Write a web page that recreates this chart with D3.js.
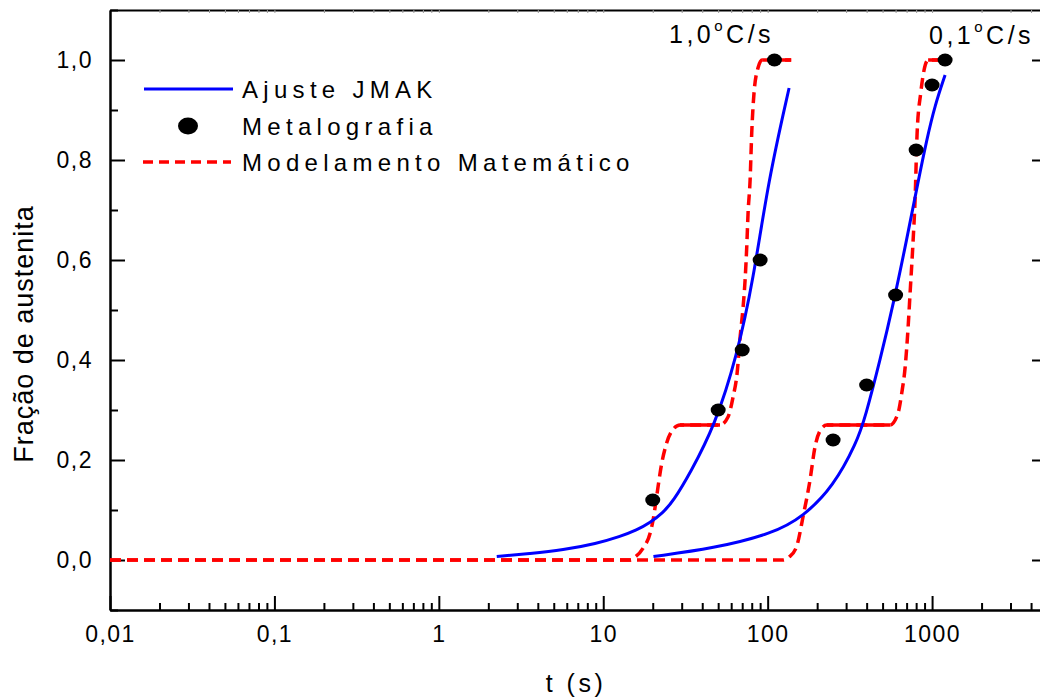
<!DOCTYPE html>
<html>
<head>
<meta charset="utf-8">
<script src="https://cdn.jsdelivr.net/npm/d3@7"></script>
<style>
  body { margin: 0; background: #fff; }
  svg text { font-family: "Liberation Sans", Arial, sans-serif; fill: #000; }
</style>
</head>
<body>
<div id="chart"></div>
<script>
// values: [t (s), fraction]
const jmakFast = [[2.25,0.007],[3.59,0.013],[5.69,0.02],[9.12,0.033],[12.65,0.047],[16.0,0.06],[19.3,0.075],[23,0.094],[26.7,0.118],[33.7,0.173],[47.9,0.27],[64.9,0.407],[81.8,0.56],[101,0.76],[135,0.944]];
const jmakSlow = [[20.2,0.007],[46.7,0.023],[108,0.053],[165,0.087],[251,0.147],[348,0.235],[392,0.285],[483,0.40],[582,0.513],[700,0.64],[826,0.76],[927,0.84],[1042,0.91],[1200,0.97]];

const modelFast = [[0.01,0],[14.5,0],[15.5,0.005],[17.5,0.024],[19.3,0.054],[20.1,0.08],[21.1,0.126],[22.7,0.194],[24.3,0.234],[26.7,0.262],[29.3,0.27],[51.3,0.27],[57.4,0.286],[61.6,0.326],[65.2,0.374],[68,0.446],[70.9,0.506],[72.9,0.56],[74.6,0.626],[76,0.694],[78.2,0.76],[80,0.854],[82.6,0.934],[87.5,0.985],[92.5,1.0],[139,1.0]];
const modelSlow = [[0.01,0],[124,0],[135,0.006],[150,0.027],[164,0.086],[181,0.16],[194,0.226],[208,0.258],[229,0.27],[556,0.27],[621,0.294],[654,0.334],[686,0.386],[715,0.466],[735,0.534],[767,0.64],[788,0.72],[811,0.854],[853,0.934],[894,0.98],[946,1.0],[1234,1.0]];

const metaFastT = [20, 50, 70, 90, 110];
const metaFastF = [0.12, 0.30, 0.42, 0.60, 1.0];
const metaSlowT = [250, 400, 600, 800, 1000, 1200];
const metaSlowF = [0.24, 0.35, 0.53, 0.82, 0.95, 1.0];

const xTicks  = [0.01, 0.1, 1, 10, 100, 1000];
const xLabels = ["0,01", "0,1", "1", "10", "100", "1000"];
const yTicks  = [0, 0.2, 0.4, 0.6, 0.8, 1.0];
const yLabels = ["0,0", "0,2", "0,4", "0,6", "0,8", "1,0"];

const legendNames = ["Ajuste JMAK", "Metalografia", "Modelamento Matemático"];
const rateLabels  = ["1,0", "0,1"];

const WIDTH  = 1040;
const HEIGHT = 700;
const MARGIN = { top: 10, right: -7, bottom: 90, left: 110 };
const INNER_WIDTH  = WIDTH - MARGIN.left - MARGIN.right;
const INNER_HEIGHT = HEIGHT - MARGIN.top - MARGIN.bottom;

const svg = d3.select("#chart").append("svg")
    .attr("width", WIDTH)
    .attr("height", HEIGHT);

const g = svg.append("g")
    .attr("transform", `translate(${MARGIN.left},${MARGIN.top})`);

const x = d3.scaleLog().domain([0.01, 5000]).range([0, INNER_WIDTH]);
const y = d3.scaleLinear().domain([-0.1, 1.1]).range([INNER_HEIGHT, 0]);

// minor tick positions
const xMinor = [];
for (let e = -2; e <= 3; e++) {
    for (let m = 2; m <= 9; m++) {
        const v = m * Math.pow(10, e);
        if (v <= 5000) xMinor.push(v);
    }
}
const yMinor = d3.range(-0.1, 1.11, 0.2).map(v => +v.toFixed(2));

const axisStyle = sel => {
    sel.select(".domain").attr("stroke", "#000").attr("stroke-width", 2);
    sel.selectAll(".tick line").attr("stroke", "#000").attr("stroke-width", 2);
    sel.selectAll(".tick text")
        .style("font-size", "23px")
        .style("letter-spacing", "1.5px");
};

// bottom axis
g.append("g")
    .attr("transform", `translate(0,${INNER_HEIGHT})`)
    .call(d3.axisBottom(x).tickValues(xMinor).tickSize(-7).tickFormat("").tickSizeOuter(0))
    .call(axisStyle);
g.append("g")
    .attr("transform", `translate(0,${INNER_HEIGHT})`)
    .call(d3.axisBottom(x).tickValues(xTicks).tickSize(-14).tickSizeOuter(0)
        .tickPadding(16).tickFormat((d, i) => xLabels[i]))
    .call(axisStyle);

// top axis, tiny ticks
g.append("g")
    .call(d3.axisTop(x).tickValues(xTicks.concat(xMinor)).tickSize(-3).tickFormat("").tickSizeOuter(0))
    .call(axisStyle)
    .call(s => s.selectAll(".tick line").attr("stroke", "#999").attr("stroke-width", 1));

// left axis
g.append("g")
    .call(d3.axisLeft(y).tickValues(yMinor).tickSize(-8).tickFormat("").tickSizeOuter(0))
    .call(axisStyle);
g.append("g")
    .call(d3.axisLeft(y).tickValues(yTicks).tickSize(-15).tickSizeOuter(0)
        .tickPadding(17).tickFormat((d, i) => yLabels[i]))
    .call(axisStyle);

// right axis (frame)
g.append("g")
    .attr("transform", `translate(${INNER_WIDTH},0)`)
    .call(d3.axisRight(y).tickValues(yTicks).tickSize(-15).tickFormat("").tickSizeOuter(0))
    .call(axisStyle);

// axis titles
g.append("text")
    .attr("x", x(0.01) + 466)
    .attr("y", INNER_HEIGHT + 82)
    .attr("text-anchor", "middle")
    .style("font-size", "25px")
    .style("letter-spacing", "3.5px")
    .text("t (s)");

svg.append("text")
    .attr("transform", "translate(33,334) rotate(-90)")
    .attr("text-anchor", "middle")
    .style("font-size", "27px")
    .style("letter-spacing", "1px")
    .text("Fração de austenita");

const line = d3.line()
    .curve(d3.curveMonotoneX)
    .x(d => x(d[0]))
    .y(d => y(d[1]));

const smoothLine = d3.line()
    .curve(d3.curveBasis)
    .x(d => x(d[0]))
    .y(d => y(d[1]));

// model curves (dashed, plateaus drawn solid)
[modelFast, modelSlow].forEach(data => {
    g.append("path")
        .datum(data)
        .attr("fill", "none")
        .attr("stroke", "#ff0000")
        .attr("stroke-width", 3.5)
        .attr("stroke-dasharray", "11,6")
        .attr("d", line);

    const flats = d3.pairs(data).filter(([a, b]) => a[1] === b[1] && a[1] > 0);
    g.selectAll(null)
        .data(flats)
        .join("line")
        .attr("x1", d => x(d[0][0]))
        .attr("x2", d => x(d[1][0]))
        .attr("y1", d => y(d[0][1]))
        .attr("y2", d => y(d[1][1]))
        .attr("stroke", "#ff0000")
        .attr("stroke-width", 3.5);
});

// JMAK fits
[jmakFast, jmakSlow].forEach(data => {
    g.append("path")
        .datum(data)
        .attr("fill", "none")
        .attr("stroke", "#0000ff")
        .attr("stroke-width", 3)
        .attr("d", smoothLine);
});

// metallography points
const dots = metaFastT.map((t, i) => [t, metaFastF[i]])
    .concat(metaSlowT.map((t, i) => [t, metaSlowF[i]]));
g.selectAll(".dot")
    .data(dots)
    .join("ellipse")
    .attr("class", "dot")
    .attr("cx", d => x(d[0]))
    .attr("cy", d => y(d[1]))
    .attr("rx", 7.5)
    .attr("ry", 6.5)
    .attr("fill", "#000");

// rate labels
const rateAt = [[669, 43], [929, 44]];
rateLabels.forEach((lab, i) => {
    const t = svg.append("text")
        .attr("x", rateAt[i][0])
        .attr("y", rateAt[i][1])
        .style("font-size", "25px")
        .style("letter-spacing", "3.5px");
    t.append("tspan").text(lab);
    t.append("tspan").attr("dy", -12).style("font-size", "15px").text("o");
    t.append("tspan").attr("dy", 12).text("C/s");
});

// legend
const legend = svg.append("g");
const rows = [89, 126, 162];
legend.append("line")
    .attr("x1", 144).attr("x2", 233).attr("y1", rows[0]).attr("y2", rows[0])
    .attr("stroke", "#0000ff").attr("stroke-width", 3);
legend.append("ellipse")
    .attr("cx", 188).attr("cy", rows[1]).attr("rx", 10).attr("ry", 8.5)
    .attr("fill", "#000");
legend.append("line")
    .attr("x1", 143).attr("x2", 231).attr("y1", rows[2]).attr("y2", rows[2])
    .attr("stroke", "#ff0000").attr("stroke-width", 3.5)
    .attr("stroke-dasharray", "10,6");
legend.selectAll("text")
    .data(legendNames)
    .join("text")
    .attr("x", 242)
    .attr("y", (d, i) => rows[i] + 9)
    .style("font-size", "24px")
    .style("letter-spacing", "5.3px")
    .text(d => d);
</script>
</body>
</html>
